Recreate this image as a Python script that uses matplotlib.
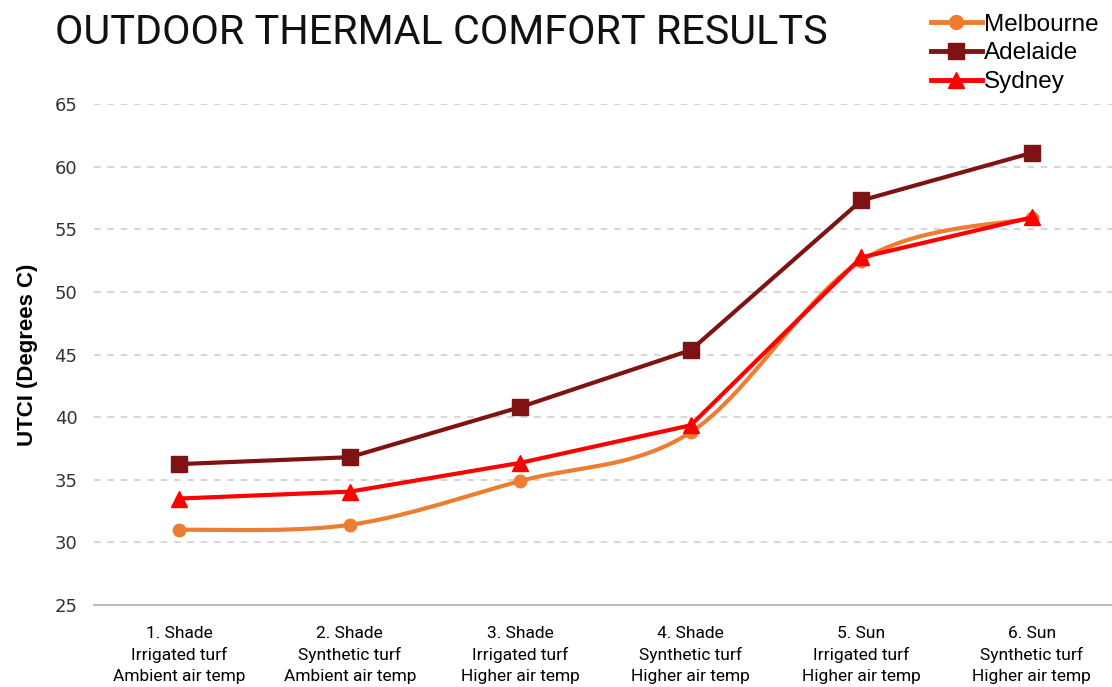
import numpy as np
import matplotlib.pyplot as plt
from matplotlib.lines import Line2D

categories = ['1. Shade\nIrrigated turf\nAmbient air temp',
              '2. Shade\nSynthetic turf\nAmbient air temp',
              '3. Shade\nIrrigated turf\nHigher air temp',
              '4. Shade\nSynthetic turf\nHigher air temp',
              '5. Sun\nIrrigated turf\nHigher air temp',
              '6. Sun\nSynthetic turf\nHigher air temp']
melbourne = [31.0, 31.4, 34.9, 38.8, 52.5, 55.9]
adelaide = [36.25, 36.8, 40.8, 45.35, 57.3, 61.1]
sydney = [33.5, 34.05, 36.35, 39.35, 52.75, 55.95]
yticks = [25, 30, 35, 40, 45, 50, 55, 60, 65]


def smooth(xs, ys, n=40):
    # catmull-rom style curve like excel's smoothed line
    xs = np.asarray(xs, float)
    ys = np.asarray(ys, float)
    px = np.concatenate([[xs[0]], xs, [xs[-1]]])
    py = np.concatenate([[ys[0]], ys, [ys[-1]]])
    outx, outy = [], []
    t = np.linspace(0, 1, n)
    for i in range(1, len(px) - 2):
        p0 = np.array([px[i - 1], py[i - 1]])
        p1 = np.array([px[i], py[i]])
        p2 = np.array([px[i + 1], py[i + 1]])
        p3 = np.array([px[i + 2], py[i + 2]])
        c1 = p1 + (p2 - p0) / 6
        c2 = p2 - (p3 - p1) / 6
        b = ((1 - t) ** 3)[:, None] * p1 + (3 * (1 - t) ** 2 * t)[:, None] * c1 \
            + (3 * (1 - t) * t ** 2)[:, None] * c2 + (t ** 3)[:, None] * p2
        outx.extend(b[:, 0])
        outy.extend(b[:, 1])
    return outx, outy


x = np.arange(len(categories))

fig = plt.figure(figsize=(11.12, 6.87), dpi=100)
ax = fig.add_axes([94 / 1112, 1 - 605 / 687, (1112 - 94) / 1112, (605 - 104) / 687])

mx, my = smooth(x, melbourne)
ax.plot(mx, my, color='#ED7D31', lw=3, zorder=3)
ax.plot(x, melbourne, 'o', color='#ED7D31', ms=9, zorder=3)
ax.plot(x, adelaide, color='#7F1212', lw=3, marker='s', ms=11, zorder=4)
ax.plot(x, sydney, color='#FF0000', lw=3, marker='^', ms=11, zorder=5)

# legend handles
handles = [Line2D([], [], color='#ED7D31', lw=3.5, marker='o', ms=10),
           Line2D([], [], color='#7F1212', lw=3.5, marker='s', ms=11),
           Line2D([], [], color='#FF0000', lw=3.5, marker='^', ms=12)]
fig.legend(handles, ['Melbourne', 'Adelaide', 'Sydney'], loc='upper right',
           bbox_to_anchor=(1.008, 1.012), frameon=False, handlelength=2.1,
           handletextpad=0.1, labelspacing=0.28,
           prop={'family': 'Liberation Sans', 'size': 17.5})

ax.set_xlim(-0.5, 5.47)
ax.set_ylim(25, 65)
ax.set_yticks(yticks)
ax.set_xticks(x)
ax.set_xticklabels(categories, fontsize=12.5, family='Roboto', linespacing=1.5)
ax.tick_params(axis='y', labelsize=13, length=0, pad=12, colors='#333333')
ax.tick_params(axis='x', length=0, pad=15)
ax.grid(axis='y', ls=(0, (4, 4)), color='#D0D0D0', lw=1.2)
for s in ['top', 'right', 'left']:
    ax.spines[s].set_visible(False)
ax.spines['bottom'].set_color('#BBBBBB')
ax.spines['bottom'].set_linewidth(1.5)

ax.set_ylabel('UTCI (Degrees C)', fontsize=16, fontweight='bold', family='Liberation Sans', labelpad=12)
fig.text(55 / 1112, 1 - 33 / 687, 'OUTDOOR THERMAL COMFORT RESULTS', fontsize=29.8,
         family='Roboto', va='center', ha='left', color='#111111')

fig.savefig('out.png', dpi=100)
